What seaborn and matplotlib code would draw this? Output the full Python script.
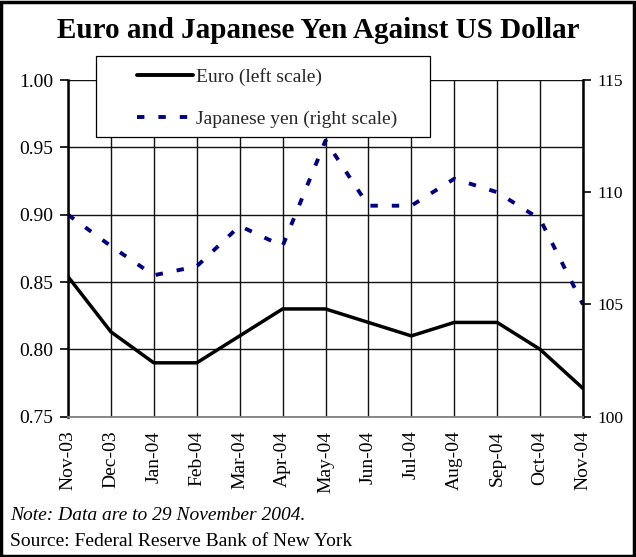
import matplotlib
matplotlib.use("Agg")
import matplotlib.pyplot as plt
import seaborn as sns
import pandas as pd
from matplotlib.patches import Rectangle
from matplotlib.lines import Line2D

months = ["Nov-03", "Dec-03", "Jan-04", "Feb-04", "Mar-04", "Apr-04", "May-04",
          "Jun-04", "Jul-04", "Aug-04", "Sep-04", "Oct-04", "Nov-04"]
euro = [0.854, 0.813, 0.790, 0.790, 0.810, 0.830, 0.830, 0.820, 0.810, 0.820, 0.820, 0.800, 0.771]
yen = [109.0, 107.6, 106.3, 106.7, 108.5, 107.6, 112.3, 109.4, 109.4, 110.6, 110.0, 108.8, 105.0]
left_ticks = [0.75, 0.80, 0.85, 0.90, 0.95, 1.00]
right_ticks = [100, 105, 110, 115]

sns.set_theme(style="white")
plt.rcParams['font.family'] = ['Liberation Serif', 'DejaVu Serif']

df = pd.DataFrame({"pos": range(len(months)), "month": months, "euro": euro, "yen": yen})

W, H = 636, 557
fig = plt.figure(figsize=(W / 100, H / 100), dpi=100)
ax = fig.add_axes([68/W, 1-416.7/H, (583-68)/W, (416.7-80)/H])
ax2 = ax.twinx()

YEN_DASH = (0, (1.9, 3.6))
sns.lineplot(data=df, x="pos", y="euro", ax=ax, color="black", linewidth=2.5, legend=False)
sns.lineplot(data=df, x="pos", y="yen", ax=ax2, color="#000080", linewidth=2.8,
             linestyle=YEN_DASH, legend=False)

ax.set_xlim(0, len(months) - 1)
ax.set_ylim(0.75, 1.00)
ax2.set_ylim(100, 115)
ax.set_yticks(left_ticks)
ax.set_yticklabels([f"{v:.2f}" for v in left_ticks], fontsize=14)
ax2.set_yticks(right_ticks)
ax2.set_yticklabels([str(v) for v in right_ticks], fontsize=12.5)
ax.set_xticks(range(len(months)))
ax.set_xticklabels(months, rotation=90, fontsize=14)
ax.set_xlabel("")
ax.set_ylabel("")
ax2.set_ylabel("")

ax.grid(True, color="#111111", linewidth=1.0)
ax2.grid(False)
ax.tick_params(axis="y", which="both", left=True, length=5.5, width=1.2, color="black", pad=5, labelcolor="black")
ax.tick_params(axis="x", bottom=False, pad=4, labelcolor="black")
ax2.tick_params(axis="y", right=True, length=5.5, width=1.2, color="black", pad=5, labelcolor="black")

for a in (ax, ax2):
    for s in a.spines.values():
        s.set_visible(False)
for side in ("left", "right"):
    ax2.spines[side].set_visible(True)
    ax2.spines[side].set_color("black")
    ax2.spines[side].set_linewidth(1.8)
ax2.spines["bottom"].set_visible(True)
ax2.spines["bottom"].set_color("#808080")
ax2.spines["bottom"].set_linewidth(1.3)
ax.set_zorder(ax2.get_zorder() - 1)
ax2.patch.set_visible(False)

# legend box
box = Rectangle((96/W, 1-137/H), (430-96)/W, (137-56)/H, transform=fig.transFigure,
                facecolor="white", edgecolor="black", linewidth=0.9, zorder=4)
fig.patches.append(box)

handles = [Line2D([], [], color="black", linewidth=2.8),
           Line2D([], [], color="#000080", linewidth=2.8, linestyle=YEN_DASH)]
labels = ["Euro (left scale)", "Japanese yen (right scale)"]
leg = fig.legend(handles, labels, loc="upper left", bbox_to_anchor=(137/W, 1-68/H),
                 frameon=False, fontsize=14, handlelength=2.9, handletextpad=0.15,
                 labelspacing=1.25, borderpad=0, borderaxespad=0)
leg.set_zorder(6)

fig.text(0.5, 1-30/H, "Euro and Japanese Yen Against US Dollar", ha="center", va="center",
         fontsize=21, fontweight="bold", color="black")
fig.text(10/W, 1-516/H, "Note: Data are to 29 November 2004.", ha="left", va="center",
         fontsize=14, style="italic", color="black")
fig.text(10/W, 1-541/H, "Source: Federal Reserve Bank of New York", ha="left", va="center",
         fontsize=14, color="black")

fig.patches.append(Rectangle((0.002, 0.002), 0.995, 0.995, transform=fig.transFigure,
                             fill=False, edgecolor="black", linewidth=2.5))

fig.savefig("out.png", dpi=100)
